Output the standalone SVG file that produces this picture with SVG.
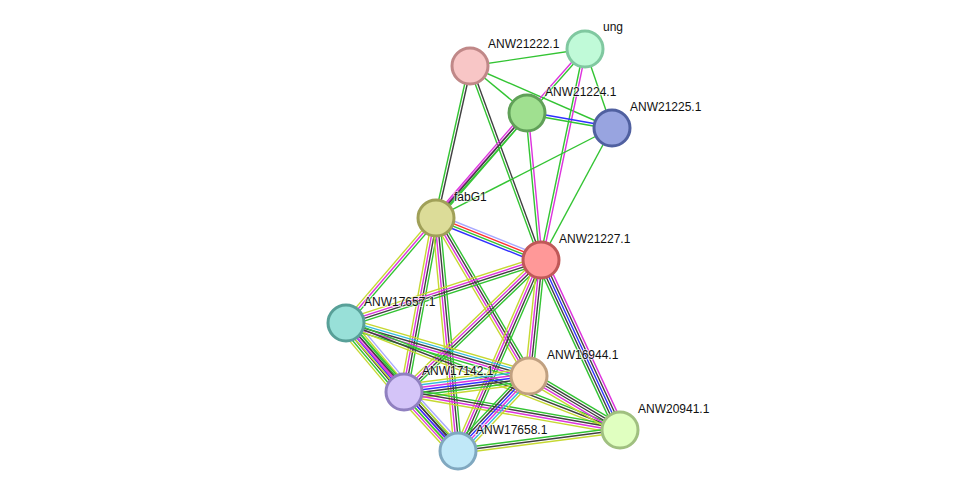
<svg xmlns="http://www.w3.org/2000/svg" width="975" height="497" viewBox="0 0 975 497">
<style>
line{stroke-width:1.4;fill:none;vector-effect:non-scaling-stroke}
.g{stroke:#33c433}.k{stroke:#404040}.m{stroke:#dd33dd}.y{stroke:#c6d832}.b{stroke:#3030ff}.c{stroke:#33bbdd}.r{stroke:#ff3030}.h{stroke:#a8a8ff}
circle{stroke-width:3}
text{font-family:"Liberation Sans",Arial,sans-serif;font-size:12px;fill:#111;stroke:#fff;stroke-width:2;stroke-opacity:.6;paint-order:stroke}
</style>
<rect width="975" height="497" fill="#fff"/>
<g id="edges">
<g transform="translate(470,66) rotate(-8.41)"><line x2="116.25" class="g"/></g>
<g transform="translate(470,66) rotate(39.51)"><line x2="73.88" class="g"/></g>
<g transform="translate(470,66) rotate(23.59)"><line x2="154.95" class="g"/></g>
<g transform="translate(470,66) rotate(102.61) scale(1,1.25)"><line x2="155.76" y1="-1" y2="-1" class="k"/><line x2="155.76" y1="1" y2="1" class="g"/></g>
<g transform="translate(470,66) rotate(69.9) scale(1,1.25)"><line x2="206.58" y1="-1" y2="-1" class="k"/><line x2="206.58" y1="1" y2="1" class="g"/></g>
<g transform="translate(585,49) rotate(71.13)"><line x2="83.49" class="g"/></g>
<g transform="translate(585,49) rotate(131.4) scale(1,1.25)"><line x2="225.3" y1="-1" y2="-1" class="g"/><line x2="225.3" y1="1" y2="1" class="m"/></g>
<g transform="translate(585,49) rotate(101.78) scale(1,1.25)"><line x2="215.54" y1="-1" y2="-1" class="m"/><line x2="215.54" y1="1" y2="1" class="g"/></g>
<g transform="translate(527,113) rotate(10.01) scale(1,1.25)"><line x2="86.31" y1="-1" y2="-1" class="b"/><line x2="86.31" y1="1" y2="1" class="g"/></g>
<g transform="translate(527,113) rotate(84.56) scale(1,1.25)"><line x2="147.67" y1="-1" y2="-1" class="m"/><line x2="147.67" y1="1" y2="1" class="g"/></g>
<g transform="translate(527,113) rotate(130.91) scale(1,1.25)"><line x2="138.95" y1="-2" y2="-2" class="g"/><line x2="138.95" class="k"/><line x2="138.95" y1="2" y2="2" class="m"/></g>
<g transform="translate(612,128) rotate(118.28)"><line x2="149.88" class="g"/></g>
<g transform="translate(612,128) rotate(152.92)"><line x2="197.68" class="g"/></g>
<g transform="translate(436,218) rotate(21.8) scale(1,1.25)"><line x2="113.09" y1="-3" y2="-3" class="h"/><line x2="113.09" y1="-1" y2="-1" class="r"/><line x2="113.09" y1="1" y2="1" class="g"/><line x2="113.09" y1="3" y2="3" class="b"/></g>
<g transform="translate(436,218) rotate(130.6) scale(1,1.25)"><line x2="138.29" y1="-2" y2="-2" class="g"/><line x2="138.29" class="m"/><line x2="138.29" y1="2" y2="2" class="y"/></g>
<g transform="translate(436,218) rotate(100.42) scale(1,1.25)"><line x2="176.92" y1="-3" y2="-3" class="g"/><line x2="176.92" y1="-1" y2="-1" class="k"/><line x2="176.92" y1="1" y2="1" class="m"/><line x2="176.92" y1="3" y2="3" class="y"/></g>
<g transform="translate(436,218) rotate(84.61) scale(1,1.25)"><line x2="234.04" y1="-3" y2="-3" class="g"/><line x2="234.04" y1="-1" y2="-1" class="k"/><line x2="234.04" y1="1" y2="1" class="m"/><line x2="234.04" y1="3" y2="3" class="y"/></g>
<g transform="translate(436,218) rotate(59.52) scale(1,1.25)"><line x2="183.34" y1="-3" y2="-3" class="g"/><line x2="183.34" y1="-1" y2="-1" class="k"/><line x2="183.34" y1="1" y2="1" class="m"/><line x2="183.34" y1="3" y2="3" class="y"/></g>
<g transform="translate(541,260) rotate(162.1) scale(1,1.25)"><line x2="204.92" y1="-3" y2="-3" class="g"/><line x2="204.92" y1="-1" y2="-1" class="k"/><line x2="204.92" y1="1" y2="1" class="m"/><line x2="204.92" y1="3" y2="3" class="y"/></g>
<g transform="translate(541,260) rotate(136.07) scale(1,1.25)"><line x2="190.24" y1="-3" y2="-3" class="g"/><line x2="190.24" y1="-1" y2="-1" class="k"/><line x2="190.24" y1="1" y2="1" class="m"/><line x2="190.24" y1="3" y2="3" class="y"/></g>
<g transform="translate(541,260) rotate(113.49) scale(1,1.25)"><line x2="208.25" y1="-3" y2="-3" class="g"/><line x2="208.25" y1="-1" y2="-1" class="k"/><line x2="208.25" y1="1" y2="1" class="m"/><line x2="208.25" y1="3" y2="3" class="y"/></g>
<g transform="translate(541,260) rotate(95.91) scale(1,1.25)"><line x2="116.62" y1="-3" y2="-3" class="g"/><line x2="116.62" y1="-1" y2="-1" class="k"/><line x2="116.62" y1="1" y2="1" class="m"/><line x2="116.62" y1="3" y2="3" class="y"/></g>
<g transform="translate(541,260) rotate(65.07) scale(1,1.25)"><line x2="187.46" y1="-4" y2="-4" class="m"/><line x2="187.46" y1="-2" y2="-2" class="k"/><line x2="187.46" class="b"/><line x2="187.46" y1="2" y2="2" class="k"/><line x2="187.46" y1="4" y2="4" class="g"/></g>
<g transform="translate(346,323) rotate(49.94) scale(1,1.25)"><line x2="90.14" y1="-7" y2="-7" class="h"/><line x2="90.14" y1="-5" y2="-5" class="y"/><line x2="90.14" y1="-3" y2="-3" class="g"/><line x2="90.14" y1="-1" y2="-1" class="m"/><line x2="90.14" y1="1" y2="1" class="b"/><line x2="90.14" y1="3" y2="3" class="k"/><line x2="90.14" y1="5" y2="5" class="g"/><line x2="90.14" y1="7" y2="7" class="y"/></g>
<g transform="translate(346,323) rotate(16.15) scale(1,1.25)"><line x2="190.52" y1="-4" y2="-4" class="y"/><line x2="190.52" y1="-2" y2="-2" class="c"/><line x2="190.52" class="k"/><line x2="190.52" y1="2" y2="2" class="m"/><line x2="190.52" y1="4" y2="4" class="g"/></g>
<g transform="translate(346,323) rotate(48.81) scale(1,1.25)"><line x2="170.08" y1="-3" y2="-3" class="g"/><line x2="170.08" y1="-1" y2="-1" class="k"/><line x2="170.08" y1="1" y2="1" class="m"/><line x2="170.08" y1="3" y2="3" class="y"/></g>
<g transform="translate(346,323) rotate(21.33) scale(1,1.25)"><line x2="294.15" y1="-2" y2="-2" class="g"/><line x2="294.15" class="k"/><line x2="294.15" y1="2" y2="2" class="y"/></g>
<g transform="translate(404,392) rotate(-7.29) scale(1,1.25)"><line x2="126.02" y1="-6" y2="-6" class="y"/><line x2="126.02" y1="-4" y2="-4" class="c"/><line x2="126.02" y1="-2" y2="-2" class="m"/><line x2="126.02" class="b"/><line x2="126.02" y1="2" y2="2" class="k"/><line x2="126.02" y1="4" y2="4" class="g"/><line x2="126.02" y1="6" y2="6" class="y"/></g>
<g transform="translate(404,392) rotate(47.54) scale(1,1.25)"><line x2="79.98" y1="-6" y2="-6" class="h"/><line x2="79.98" y1="-4" y2="-4" class="y"/><line x2="79.98" y1="-2" y2="-2" class="k"/><line x2="79.98" class="b"/><line x2="79.98" y1="2" y2="2" class="g"/><line x2="79.98" y1="4" y2="4" class="m"/><line x2="79.98" y1="6" y2="6" class="y"/></g>
<g transform="translate(404,392) rotate(9.98) scale(1,1.25)"><line x2="219.32" y1="-3" y2="-3" class="g"/><line x2="219.32" y1="-1" y2="-1" class="k"/><line x2="219.32" y1="1" y2="1" class="m"/><line x2="219.32" y1="3" y2="3" class="y"/></g>
<g transform="translate(529,376) rotate(133.43) scale(1,1.25)"><line x2="103.28" y1="-5" y2="-5" class="y"/><line x2="103.28" y1="-3" y2="-3" class="c"/><line x2="103.28" y1="-1" y2="-1" class="m"/><line x2="103.28" y1="1" y2="1" class="b"/><line x2="103.28" y1="3" y2="3" class="k"/><line x2="103.28" y1="5" y2="5" class="g"/></g>
<g transform="translate(529,376) rotate(30.68) scale(1,1.25)"><line x2="105.82" y1="-4" y2="-4" class="g"/><line x2="105.82" y1="-2" y2="-2" class="k"/><line x2="105.82" class="k"/><line x2="105.82" y1="2" y2="2" class="m"/><line x2="105.82" y1="4" y2="4" class="y"/></g>
<g transform="translate(458,451) rotate(-7.39) scale(1,1.25)"><line x2="163.36" y1="-2" y2="-2" class="g"/><line x2="163.36" class="k"/><line x2="163.36" y1="2" y2="2" class="y"/></g>
</g>
<g id="n-ANW21222"><circle cx="470" cy="66" r="18" fill="#f8c6c6" stroke="#c08888"/><text x="488" y="48">ANW21222.1</text></g>
<g id="n-ung"><circle cx="585" cy="49" r="18" fill="#c0fad8" stroke="#80c8a0"/><text x="603" y="31">ung</text></g>
<g id="n-ANW21224"><circle cx="527" cy="113" r="18" fill="#a0e090" stroke="#60a058"/><text x="545" y="96">ANW21224.1</text></g>
<g id="n-ANW21225"><circle cx="612" cy="128" r="18" fill="#98a4e0" stroke="#5060a0"/><text x="630" y="111">ANW21225.1</text></g>
<g id="n-fabG1"><circle cx="436" cy="218" r="18" fill="#dcdc98" stroke="#a0a058"/><text x="454" y="201">fabG1</text></g>
<g id="n-ANW21227"><circle cx="541" cy="260" r="18" fill="#ff9898" stroke="#c05858"/><text x="559" y="243">ANW21227.1</text></g>
<g id="n-ANW17657"><circle cx="346" cy="323" r="18" fill="#98e0d8" stroke="#58a098"/><text x="364" y="306">ANW17657.1</text></g>
<g id="n-ANW16944"><circle cx="529" cy="376" r="18" fill="#fee0c0" stroke="#c0a080"/><text x="547" y="359">ANW16944.1</text></g>
<g id="n-ANW17142"><circle cx="404" cy="392" r="18" fill="#d4c4f8" stroke="#9080c0"/><text x="422" y="375">ANW17142.1</text></g>
<g id="n-ANW17658"><circle cx="458" cy="451" r="18" fill="#c0e8f8" stroke="#80a8c0"/><text x="476" y="434">ANW17658.1</text></g>
<g id="n-ANW20941"><circle cx="620" cy="430" r="18" fill="#e0ffc0" stroke="#a0c080"/><text x="638" y="413">ANW20941.1</text></g>
</svg>
